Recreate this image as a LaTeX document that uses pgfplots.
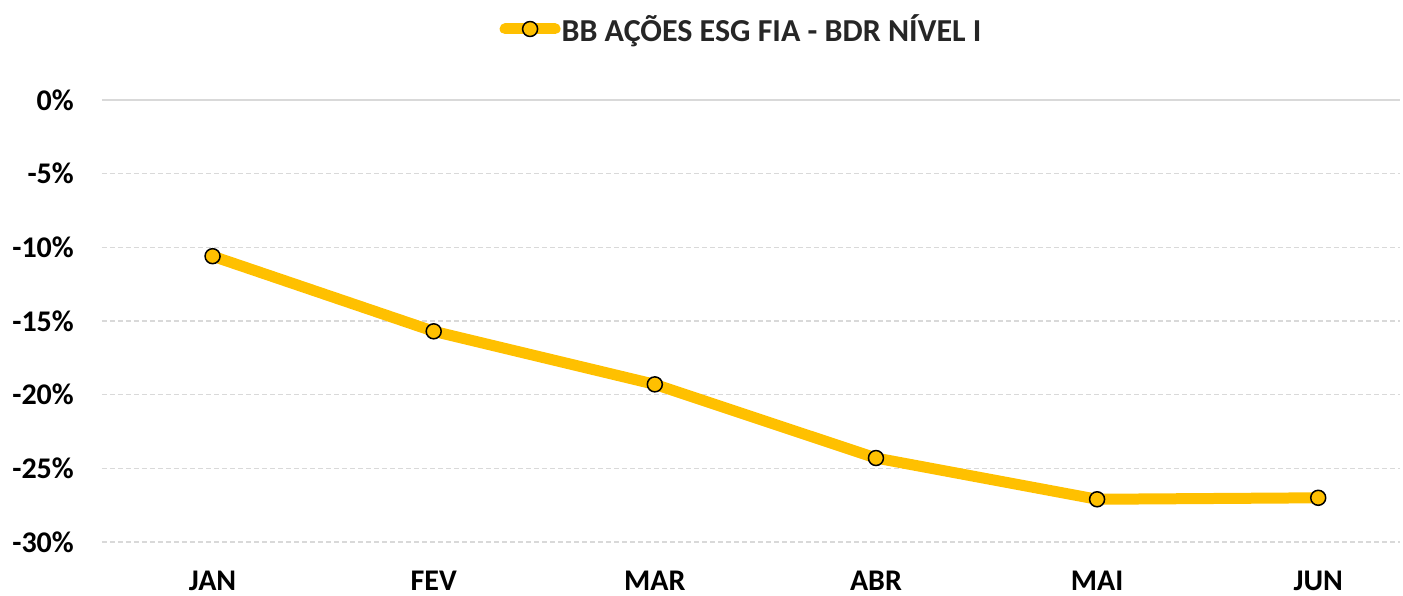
\documentclass[border=0pt]{standalone}
\usepackage{pgfplots}
\pgfplotsset{compat=1.18}
\usepackage{fontspec}
\setmainfont{Carlito}
\definecolor{gold}{HTML}{FFC000}
\definecolor{gridc}{HTML}{D9D9D9}
\definecolor{txt}{HTML}{262626}
\begin{document}
\begin{tikzpicture}
\path[use as bounding box] (-102pt,-53pt) rectangle (1301pt,542pt);
\begin{axis}[
  at={(0,0)}, anchor=south west,
  scale only axis,
  width=1298pt, height=442pt,
  xmin=-0.5, xmax=5.37,
  ymin=-30, ymax=0,
  xtick={0,1,2,3,4,5},
  xticklabels={JAN,FEV,MAR,ABR,MAI,JUN},
  ytick={-30,-25,-20,-15,-10,-5},
  yticklabels={-30\%,-25\%,-20\%,-15\%,-10\%,-5\%},
  extra y ticks={0},
  extra y tick labels={0\%},
  extra y tick style={grid=major, major grid style={solid, gridc, line width=2pt}},
  ymajorgrids,
  major grid style={gridc, line width=1.5pt, dash pattern=on 5pt off 3pt},
  axis line style={draw=none},
  tick style={draw=none},
  clip=false,
  tick label style={font=\fontsize{30}{36}\selectfont\bfseries, text=black},
  yticklabel style={anchor=east, inner sep=0pt, xshift=-28pt},
  xticklabel style={anchor=base, inner sep=0pt, yshift=-48pt},
  legend style={at={(axis description cs:0.5,1)}, anchor=center, yshift=71pt, xshift=-10pt,
    draw=none, fill=none, font=\fontsize{32}{38}\selectfont\bfseries, text=txt,
    inner sep=0pt, outer sep=0pt, nodes={inner sep=1pt}},
  legend image code/.code={
    \draw[#1, mark=none, line cap=round] (5.5pt,0pt) -- (55.5pt,0pt);
    \draw[#1, draw=none] plot[mark repeat=1] coordinates {(30.5pt,0pt)};
  },
]
\addplot[gold, line width=11pt, line join=round,
  mark=*, mark size=7.5pt, mark options={fill=gold, draw=black, line width=1.5pt}]
  coordinates {(0,-10.6) (1,-15.7) (2,-19.3) (3,-24.3) (4,-27.1) (5,-27.0)};
\addlegendentry{BB AÇÕES ESG FIA - BDR NÍVEL I}
\end{axis}
\end{tikzpicture}
\end{document}
